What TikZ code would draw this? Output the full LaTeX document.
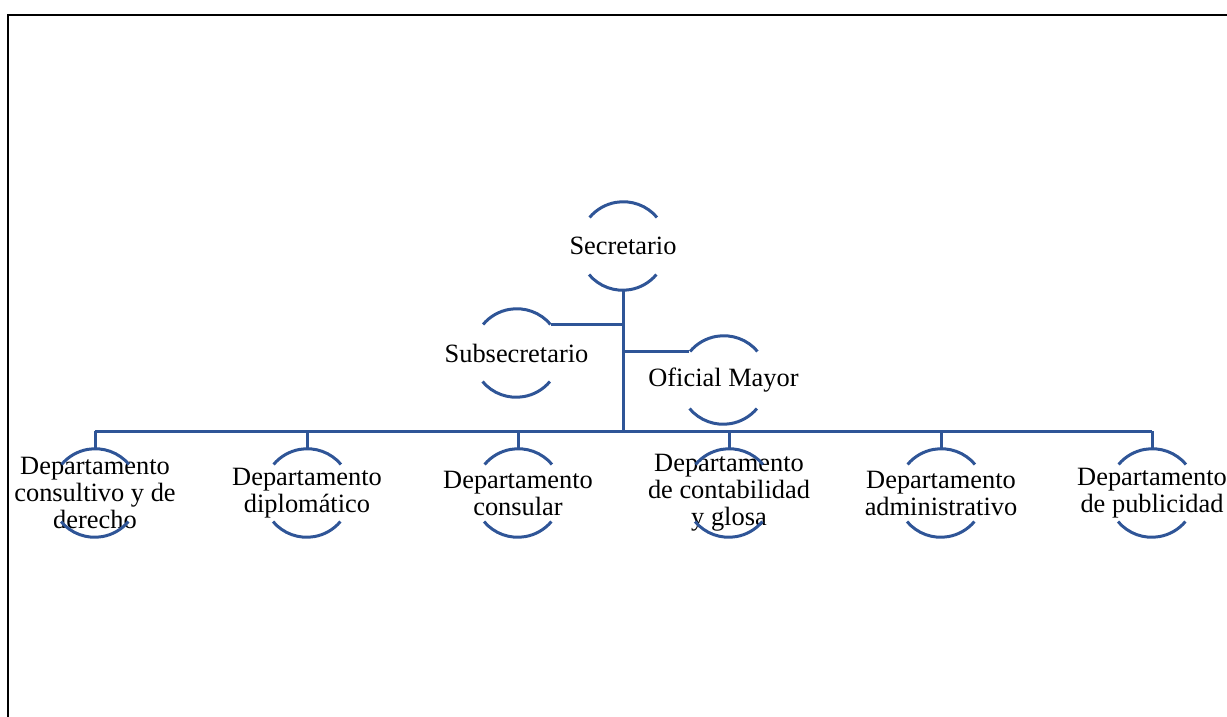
\documentclass[tikz,border=0pt]{standalone}
\usepackage{fontspec}
\setmainfont{Liberation Serif}
\definecolor{orgblue}{RGB}{47,85,151}
\tikzset{link/.style={draw=orgblue, line width=1.5pt}}
\tikzset{unit/.style={circle, minimum size=44pt, inner sep=0pt}}
\tikzset{rol/.style={align=center, font=\fontsize{13.2}{13.5}\selectfont}}
\tikzset{frame/.style={line width=1pt}}

\begin{document}
\begin{tikzpicture}[x=0.5pt,y=0.5pt]
\useasboundingbox (0,0) rectangle (1227,-717);
\draw[frame] (8,-717) -- (8,-15) -- (1227,-15);
\node[unit, label={[rol]center:Secretario}] (sec) at (623,-246) {};
\node[unit, label={[rol]center:Subsecretario}] (sub) at (516.5,-353) {};
\node[unit, label={[rol]center:Oficial Mayor}] (ofi) at (723.5,-380) {};
\node[unit, label={[rol]center:{Departamento\\consultivo y de\\derecho}}] (d1) at (95,-493) {};
\node[unit, label={[rol]center:{Departamento\\diplomático}}] (d2) at (307,-493) {};
\node[unit, label={[rol]center:{Departamento\\consular}}] (d3) at (518,-493) {};
\node[unit, label={[rol]center:{Departamento\\de contabilidad\\y glosa}}] (d4) at (729,-493) {};
\node[unit, label={[rol]center:{Departamento\\administrativo}}] (d5) at (941,-493) {};
\node[unit, label={[rol]center:{Departamento\\de publicidad}}] (d6) at (1152,-493) {};
\coordinate (bus) at (623,-431);
% only the top and bottom arcs of each circle
\foreach \n in {sec,sub,ofi,d1,d2,d3,d4,d5,d6}
  \draw[link] (\n.40) arc[start angle=40, end angle=140, radius=22pt]
              (\n.220) arc[start angle=220, end angle=320, radius=22pt];
\draw[link] (sec.south) -- (bus);
\draw[link] (sub.40) -- (sub.40 -| sec.south);
\draw[link] (ofi.140) -- (ofi.140 -| sec.south);
\draw[link] (d1 |- bus) -- (d6 |- bus);
\foreach \n in {d1,d2,d3,d4,d5,d6}
  \draw[link] (\n |- bus) -- (\n.north);
\end{tikzpicture}
\end{document}
